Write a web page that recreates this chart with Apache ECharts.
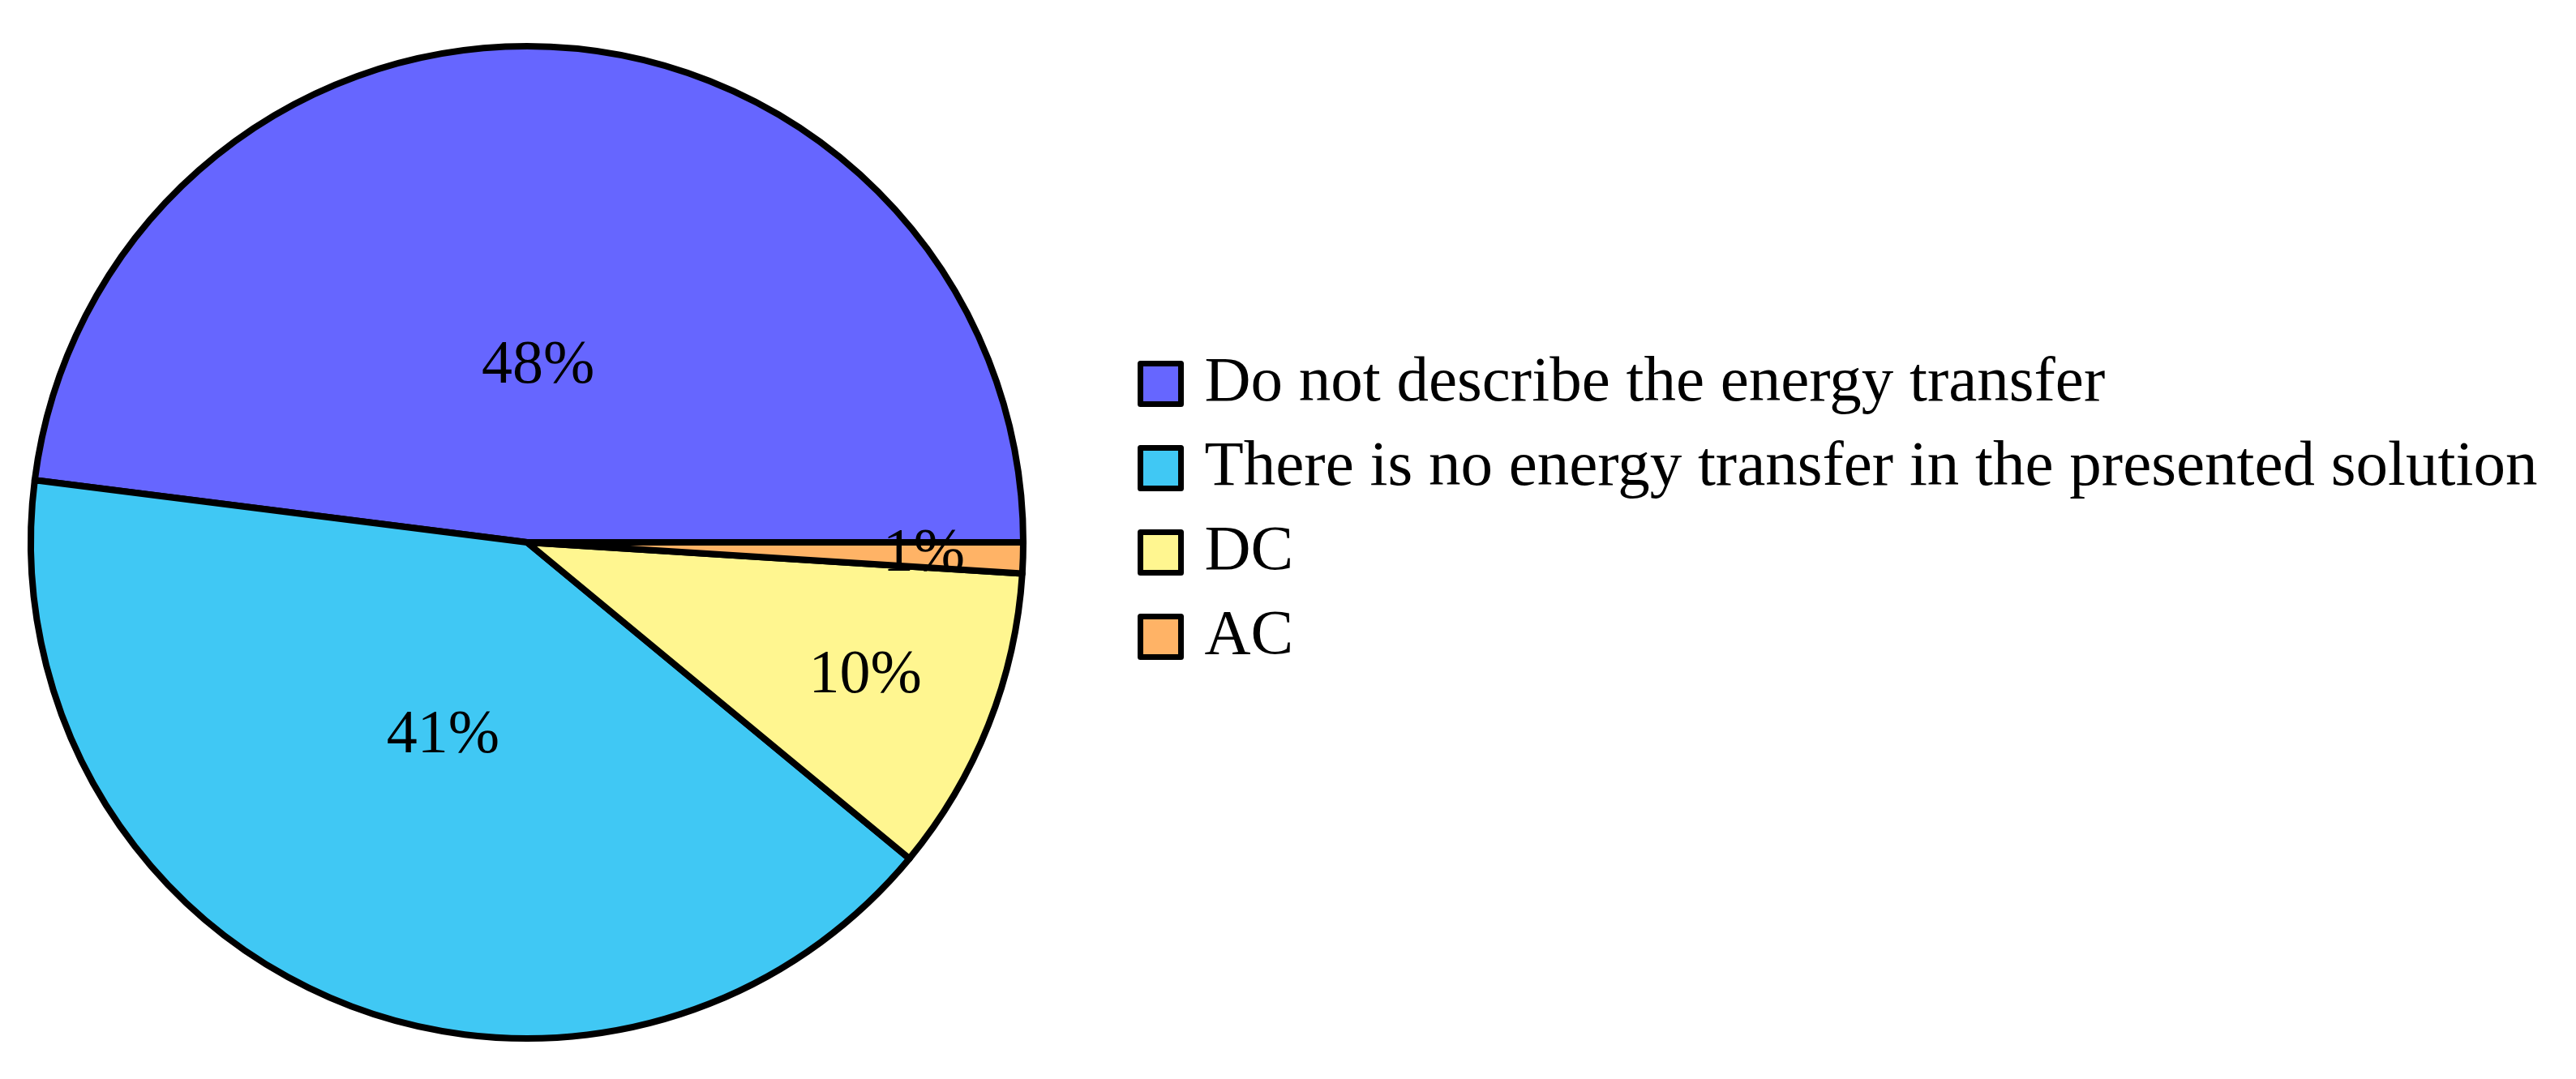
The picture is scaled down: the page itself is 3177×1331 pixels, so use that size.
<!DOCTYPE html>
<html>
<head>
<meta charset="utf-8">
<script src="https://cdn.jsdelivr.net/npm/echarts@6/dist/echarts.min.js"></script>
<style>
html,body{margin:0;padding:0;background:#fff;}
#chart{width:3177px;height:1331px;}
</style>
</head>
<body>
<div id="chart"></div>
<script>
const categories = [
  'Do not describe the energy transfer',
  'There is no energy transfer in the presented solution',
  'DC',
  'AC'
];
const values = [48, 41, 10, 1];
const colors = ['#6666FF', '#40C8F4', '#FFF690', '#FFB366'];
// label distance from centre as a fraction of radius
const labelRadiusFrac = [0.355, 0.426, 0.733, 0.80];

const CX = 650, CY = 669, R = 612;
const FONT = 'Liberation Serif';
const total = values.reduce((a, b) => a + b, 0);

function midAngle(i) {
  let start = 0;
  for (let k = 0; k < i; k++) start += values[k] / total * 360;
  return (start + values[i] / total * 180) * Math.PI / 180;
}

const chart = echarts.init(document.getElementById('chart'), null, {renderer: 'canvas'});
chart.setOption({
  animation: false,
  backgroundColor: '#ffffff',
  legend: {
    orient: 'vertical',
    left: 1398,
    top: 429,
    itemWidth: 50,
    itemHeight: 50,
    itemGap: 25,
    icon: 'rect',
    data: categories,
    itemStyle: {borderColor: '#000', borderWidth: 7},
    textStyle: {fontFamily: FONT, fontSize: 79, color: '#000', lineHeight: 79, padding: [0, 0, 0, 24]}
  },
  series: [{
    type: 'pie',
    center: [CX, CY],
    radius: [0, R],
    startAngle: 0,
    clockwise: false,
    avoidLabelOverlap: false,
    itemStyle: {borderColor: '#000', borderWidth: 8},
    emphasis: {disabled: true},
    label: {
      show: true,
      position: 'inside',
      formatter: p => p.value + '%',
      fontFamily: FONT,
      fontSize: 76,
      color: '#000'
    },
    labelLine: {show: false},
    labelLayout: function (params) {
      const i = params.dataIndex;
      const a = midAngle(i);
      const r = labelRadiusFrac[i] * R;
      return {x: CX + r * Math.cos(a), y: CY - r * Math.sin(a), align: 'center', verticalAlign: 'middle'};
    },
    data: categories.map((c, i) => ({name: c, value: values[i], itemStyle: {color: colors[i]}}))
  }]
});
</script>
</body>
</html>
